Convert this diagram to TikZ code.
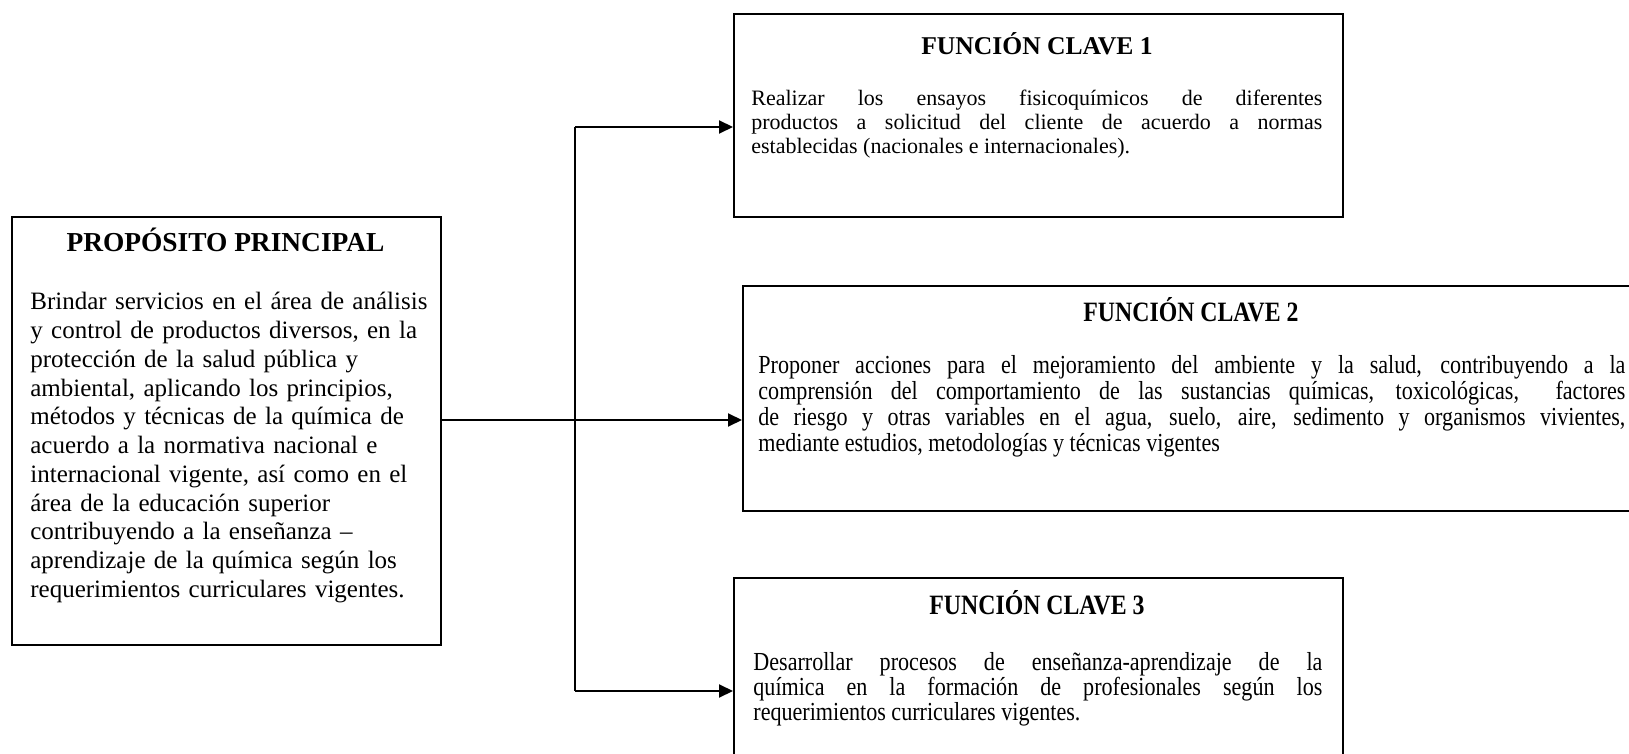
\documentclass[tikz,border=0pt]{standalone}
\usepackage{fontspec}
\setmainfont{Liberation Serif}
\newfontfamily\letraestrecha[FakeStretch=0.85]{Liberation Serif}
\usetikzlibrary{positioning,arrows.meta}

\begin{document}
\begin{tikzpicture}[x=0.5pt,y=-0.5pt,
    caja/.style={draw,line width=1pt,inner sep=0pt,anchor=north west},
    titulo/.style={inner sep=0pt,anchor=base,font=\bfseries\fontsize{13.7}{16}\selectfont},
    tituloestrecho/.style={inner sep=0pt,anchor=base,font=\letraestrecha\bfseries\fontsize{14}{16}\selectfont},
    texto/.style={inner sep=0pt,anchor=base west},
    linea/.style={line width=1pt},
    flecha/.style={line width=1pt,-{Triangle[length=7pt,width=6.5pt]}}]
  \clip (0,0) rectangle (1629,754);
  % propósito principal (izquierda)
  \node[caja,minimum width=214.5pt,minimum height=214pt] (prop) at (11,216) {};
  \node[titulo] (tprop) at (225.5,252) {PROPÓSITO PRINCIPAL};
  \node[texto,text width=205pt,align=left,font=\fontsize{12.5}{14.375}\selectfont] (bprop) at (30,310)
    {Brindar servicios en el área de análisis\\
     y control de productos diversos, en la\\
     protección de la salud pública y\\
     ambiental, aplicando los principios,\\
     métodos y técnicas de la química de\\
     acuerdo a la normativa nacional e\\
     internacional vigente, así como en el\\
     área de la educación superior\\
     contribuyendo a la enseñanza –\\
     aprendizaje de la química según los\\
     requerimientos curriculares vigentes.};
  % funciones clave
  \node[caja,minimum width=304.5pt,minimum height=101.5pt] (f1) at (733,13) {};
  \node[titulo,font=\bfseries\fontsize{12.8}{16}\selectfont] (tf1) at (1037,55) {FUNCIÓN CLAVE 1};
  \node[texto,text width=285.5pt,align=justify,font=\fontsize{11}{12}\selectfont] (bf1) at (751,106)
    {Realizar los ensayos fisicoquímicos de diferentes\linebreak
     productos a solicitud del cliente de acuerdo a normas\linebreak
     establecidas (nacionales e internacionales).};
  \node[caja,minimum width=451.5pt,minimum height=112.5pt] (f2) at (742,285) {};
  \node[tituloestrecho] (tf2) at (1191,322) {FUNCIÓN CLAVE 2};
  \node[texto,text width=433.5pt,align=justify,font=\letraestrecha\fontsize{13}{13}\selectfont] (bf2) at (758,374)
    {Proponer acciones para el mejoramiento del ambiente y la salud, contribuyendo a la\linebreak
     comprensión del comportamiento de las sustancias químicas, toxicológicas,\ \ factores\linebreak
     de riesgo y otras variables en el agua, suelo, aire, sedimento y organismos vivientes,\linebreak
     mediante estudios, metodologías y técnicas vigentes};
  \node[caja,minimum width=304.5pt,minimum height=100pt] (f3) at (733,577) {};
  \node[tituloestrecho] (tf3) at (1037,614) {FUNCIÓN CLAVE 3};
  \node[texto,text width=284.5pt,align=justify,font=\letraestrecha\fontsize{13}{12.5}\selectfont] (bf3) at (753,670)
    {Desarrollar procesos de enseñanza-aprendizaje de la\linebreak
     química en la formación de profesionales según los\linebreak
     requerimientos curriculares vigentes.};
  % conectores
  \coordinate (J) at (575,420);
  \coordinate (J1) at (575,127);
  \coordinate (J3) at (575,691);
  \draw[linea] (prop.east |- J) -- (J);
  \draw[linea] (J1) -- (J3);
  \draw[flecha] (J1) -- (f1.west |- J1);
  \draw[flecha] (J) -- (f2.west |- J);
  \draw[flecha] (J3) -- (f3.west |- J3);
\end{tikzpicture}
\end{document}
